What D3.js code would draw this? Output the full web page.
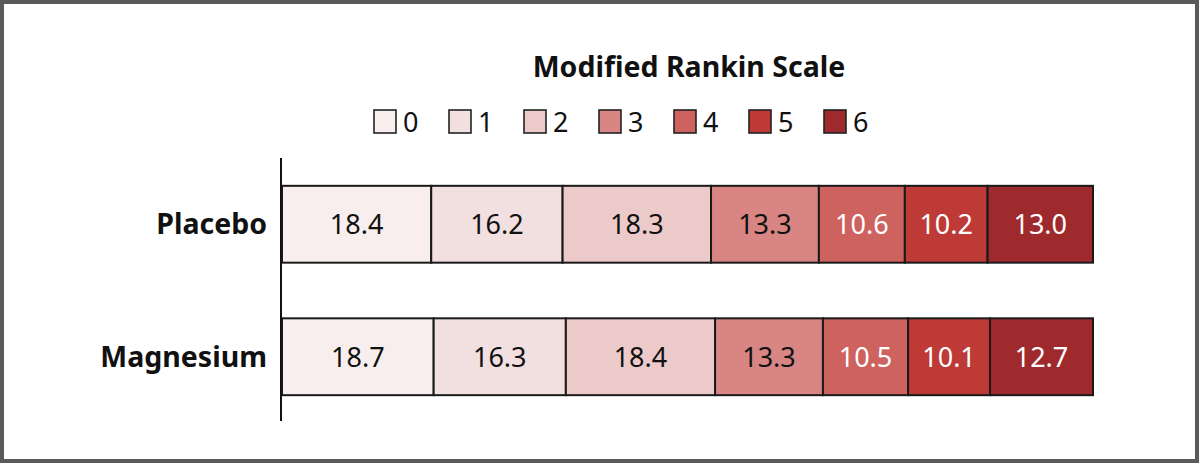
<!DOCTYPE html>
<html><head><meta charset="utf-8">
<script src="https://cdn.jsdelivr.net/npm/d3@7"></script>
<style>
html,body{margin:0;padding:0;background:#fff;}
svg{display:block;}
</style></head>
<body>
<svg id="chart" width="1200" height="464"></svg>
<script>
const categories = ["Placebo", "Magnesium"];
const levels = ["0", "1", "2", "3", "4", "5", "6"];
const placeboValues = [18.4, 16.2, 18.3, 13.3, 10.6, 10.2, 13.0];
const magnesiumValues = [18.7, 16.3, 18.4, 13.3, 10.5, 10.1, 12.7];
const levelColors = ["#f9eeee", "#f2dfdf", "#edcaca", "#d88583", "#cd625f", "#be3a37", "#9f2a2d"];
const textColors = ["#111", "#111", "#111", "#111", "#fff", "#fff", "#fff"];
const title = "Modified Rankin Scale";

const seriesByCat = [placeboValues, magnesiumValues];
const font = "'Noto Sans', 'Open Sans', sans-serif";
const svg = d3.select("#chart");

// frame
svg.append("rect").attr("x", 2).attr("y", 2).attr("width", 1195).attr("height", 459)
  .attr("fill", "#fff").attr("stroke", "#5a5a5a").attr("stroke-width", 4);

const x = d3.scaleLinear().domain([0, 100]).range([282, 1093]);
const y = d3.scaleBand().domain(categories).range([158, 423]).paddingInner(0.42).paddingOuter(0.21);

// title
svg.append("text").attr("x", 689).attr("y", 77).attr("text-anchor", "middle")
  .attr("font-family", font).attr("font-weight", "bold").attr("font-size", 28.5)
  .attr("fill", "#111").text(title);

// legend
const lg = svg.append("g");
const legX = d3.scaleBand().domain(levels).range([374, 899]);
levels.forEach((l, i) => {
  const gx = legX(l);
  lg.append("rect").attr("x", gx).attr("y", 110).attr("width", 22).attr("height", 23)
    .attr("fill", levelColors[i]).attr("stroke", "#222").attr("stroke-width", 1.6);
  lg.append("text").attr("x", gx + 29).attr("y", 132).attr("font-family", font)
    .attr("font-size", 27).attr("fill", "#111").text(l);
});

// bars
categories.forEach((c, ci) => {
  const vals = seriesByCat[ci];
  let cum = 0;
  const g = svg.append("g");
  vals.forEach((v, i) => {
    const x0 = x(cum), x1 = x(cum + v);
    g.append("rect").attr("x", x0).attr("y", y(c)).attr("width", x1 - x0).attr("height", y.bandwidth())
      .attr("fill", levelColors[i]).attr("stroke", "#1a1a1a").attr("stroke-width", 2);
    g.append("text").attr("x", (x0 + x1) / 2).attr("y", y(c) + y.bandwidth() / 2 + 10)
      .attr("text-anchor", "middle").attr("font-family", font).attr("font-size", 27)
      .attr("fill", textColors[i]).text(v.toFixed(1));
    cum += v;
  });
  svg.append("text").attr("x", 267).attr("y", y(c) + y.bandwidth() / 2 + 10)
    .attr("text-anchor", "end").attr("font-family", font).attr("font-weight", "bold")
    .attr("font-size", 28.5).attr("fill", "#111").text(c);
});

// axis line
svg.append("line").attr("x1", 281).attr("x2", 281).attr("y1", 158).attr("y2", 421)
  .attr("stroke", "#111").attr("stroke-width", 2);
</script>
</body></html>
